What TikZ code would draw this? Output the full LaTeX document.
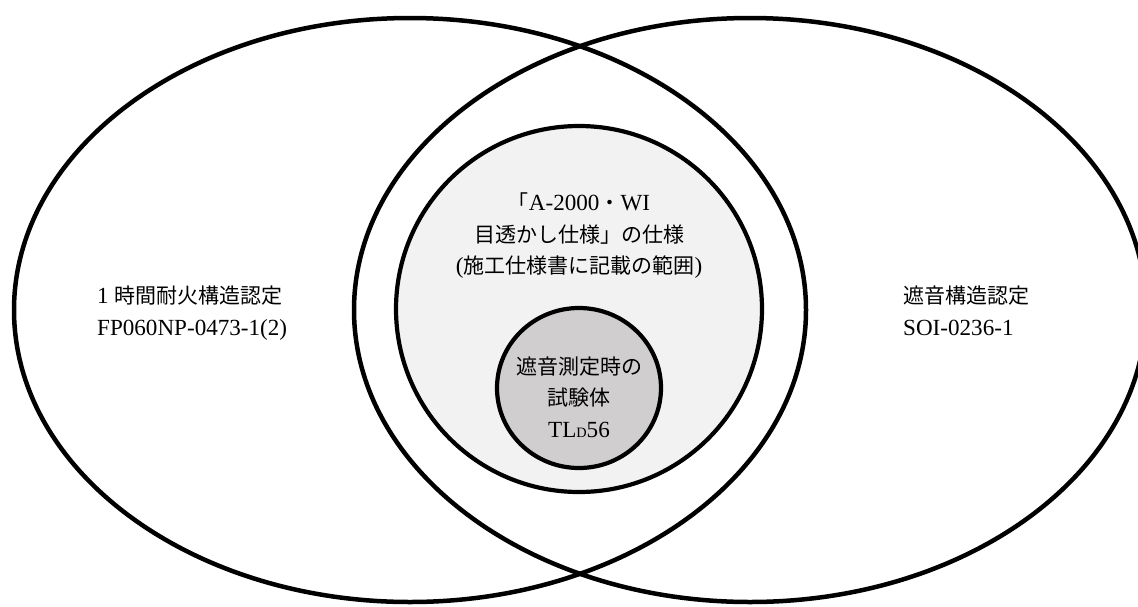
\documentclass[tikz,border=0pt]{standalone}
\usepackage{fontspec}
\setmainfont{Liberation Serif}[Scale=1.1]
\newfontfamily\jp{Noto Sans CJK JP}
\usetikzlibrary{shapes.geometric}
\definecolor{lightfill}{HTML}{F2F2F2}
\definecolor{darkfill}{HTML}{D0CECE}
\begin{document}
\begin{tikzpicture}[x=1pt,y=-1pt,
  bigset/.style={draw=black,ellipse,line width=4.5pt,inner sep=0pt,minimum width=792pt,minimum height=584pt},
  specset/.style={draw=black,fill=lightfill,ellipse,line width=4.2pt,inner sep=0pt,minimum width=366pt,minimum height=366pt},
  testset/.style={draw=black,fill=darkfill,ellipse,line width=4.2pt,inner sep=0pt,minimum width=164pt,minimum height=160pt},
  lbl/.style={font=\fontsize{21}{31.5}\selectfont,inner sep=0pt,text=black}]
\useasboundingbox (0,0) rectangle (1138,606);
\clip (0,0) rectangle (1138,606);
\fill[white] (0,0) rectangle (1138,606);
\node[bigset] (fire) at (410,310) {};
\node[bigset] (sound) at (750,310) {};
\node[specset] (spec) at (579,309) {};
\node[testset] (test) at (579,388) {};
\node[lbl,align=center] (spectext) at (579,236) {{\jp 「}A-2000{\jp ・}WI\\{\jp 目透かし仕様」の仕様}\\({\jp 施工仕様書に記載の範囲})};
\node[lbl,align=left,anchor=west] (firetext) at (97,313) {1 {\jp 時間耐火構造認定}\\FP060NP-0473-1(2)};
\node[lbl,align=left,anchor=west] (soundtext) at (903,311) {{\jp 遮音構造認定}\\SOI-0236-1};
\node[lbl,align=center] (testtext) at (579,397) {{\jp 遮音測定時の}\\{\jp 試験体}\\TL{\fontsize{13}{13}\selectfont D}56};
\end{tikzpicture}
\end{document}
